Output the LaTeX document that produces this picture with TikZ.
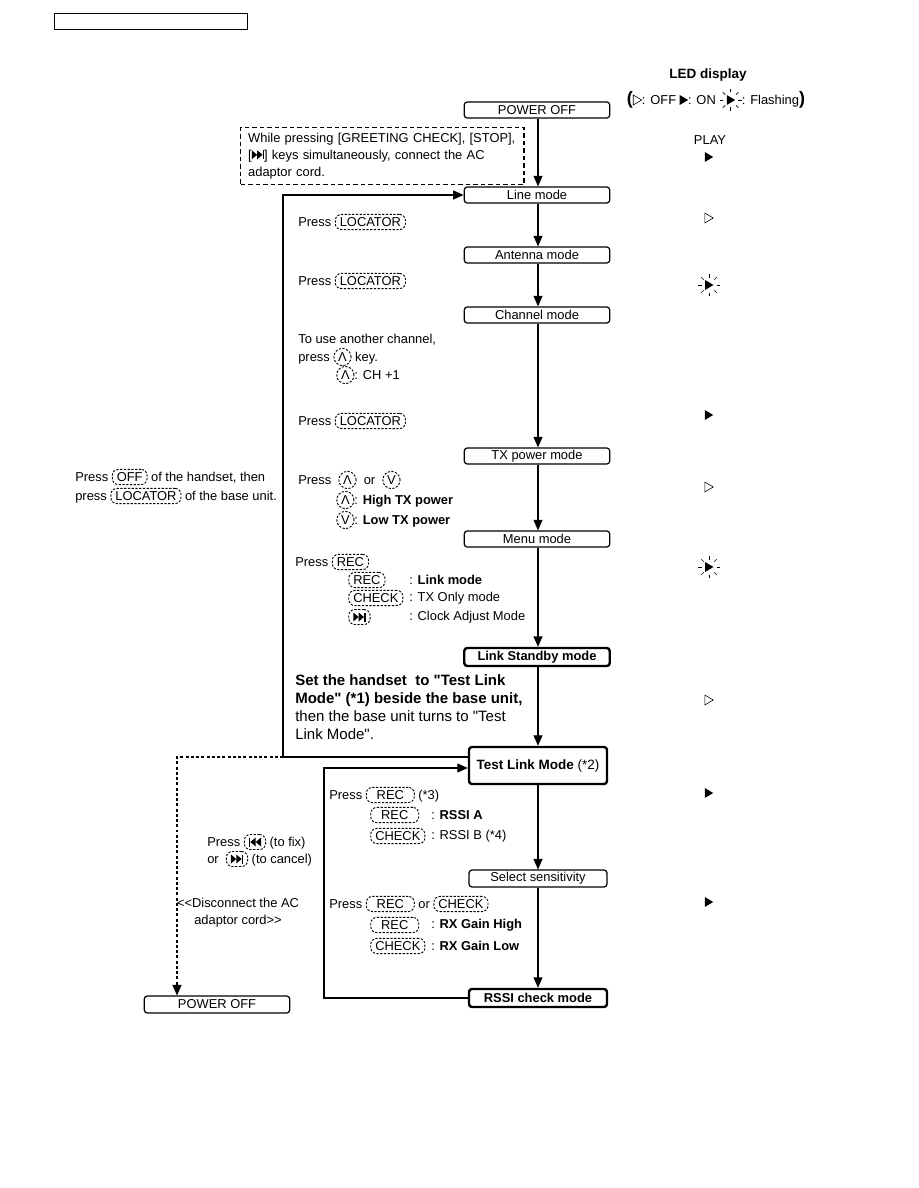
\documentclass[tikz,border=0pt]{standalone}
\usepackage{fontspec}
\setmainfont{Liberation Sans}
\newfontfamily\qfont{Liberation Sans}[Ligatures=ResetAll]
\usetikzlibrary{arrows.meta, positioning}

% LED marks and key icons
\newcommand\ledoff{\tikz[baseline=-3pt,x=1pt,y=1pt,sharp corners,solid]\draw[line width=0.4pt] (-2.6,-3.3) -- (3,0) -- (-2.6,3.3) -- cycle;}
\newcommand\ledon{\tikz[baseline=-3pt,x=1pt,y=1pt,sharp corners,solid]\fill (-2.6,-3.3) -- (3,0) -- (-2.6,3.3) -- cycle;}
\newcommand\ledflash{\tikz[baseline=-3pt,x=1pt,y=1pt,sharp corners,solid]{\fill (-2.6,-3.3) -- (3,0) -- (-2.6,3.3) -- cycle;
  \foreach \a in {0,45,...,315} \draw[line width=0.4pt] (\a:5) -- (\a:7.3);}}
\newcommand\ffwicon{\tikz[x=1pt,y=1pt,baseline=0pt,sharp corners,solid]{\fill (0,0) -- (3.6,3) -- (0,6) -- cycle;
  \fill (3.6,0) -- (7.2,3) -- (3.6,6) -- cycle; \fill (7.2,0) rectangle (8.2,6);}}
\newcommand\rewicon{\tikz[x=1pt,y=1pt,baseline=0pt,sharp corners,solid]{\fill (0,0) rectangle (1,6);
  \fill (4.6,0) -- (1,3) -- (4.6,6) -- cycle; \fill (8.2,0) -- (4.6,3) -- (8.2,6) -- cycle;}}

\tikzset{
  keybox/.style={draw, dash pattern=on 1.5pt off 1pt, line width=0.6pt, rounded corners=4pt,
    inner xsep=3pt, inner ysep=2pt},
  keyround/.style={draw, circle, dash pattern=on 1.5pt off 1pt, line width=0.6pt,
    inner sep=0.5pt, minimum size=11.5pt}
}
\newcommand\keycap[2][]{\tikz[baseline=(k.base)]\node[keybox,#1] (k) {#2};}
\newcommand\upkey{\tikz[baseline=(k.base)]\node[keyround] (k) {Λ};}
\newcommand\downkey{\tikz[baseline=(k.base)]\node[keyround] (k) {V};}
\newcommand\qq{{\qfont"}}

\begin{document}
\begin{tikzpicture}[x=0.6667pt, y=-0.6667pt,
    every node/.style={font=\fontsize{8.6}{11.5}\selectfont},
    mode/.style={draw, rounded corners=2pt, line width=0.8pt, minimum width=97pt,
      minimum height=10.7pt, inner sep=0pt},
    bmode/.style={mode, line width=1.6pt, font=\fontsize{8.6}{11.5}\selectfont\bfseries},
    txt/.style={anchor=west, inner sep=0pt},
    arr/.style={-{Triangle[length=7pt,width=6pt]}, line width=0.7pt}]
  \useasboundingbox (0,0) rectangle (918,1188);

  \node[draw, line width=0.9pt, anchor=north west, minimum width=128.7pt, minimum height=10.7pt] (hdr) at (54,13) {};

  % main column
  \node[mode] (pwr1) at (537,110) {POWER OFF};
  \node[mode] (line) at (537,195) {Line mode};
  \node[mode] (ant) at (537,255) {Antenna mode};
  \node[mode] (chan) at (537,315) {Channel mode};
  \node[mode] (tx) at (537,456) {TX power mode};
  \node[mode] (menu) at (537,539) {Menu mode};
  \node[bmode, minimum height=12pt] (stby) at (537,657) {Link Standby mode};
  \node[bmode, minimum width=92pt, minimum height=24.7pt, font=\fontsize{9}{11.5}\selectfont] (test) at (538,765.5)
    {\textbf{Test Link Mode} (*2)};
  \node[mode, minimum width=92pt, minimum height=11.3pt] (sel) at (538,878.5) {Select sensitivity};
  \node[bmode, minimum width=92pt, minimum height=12pt] (rssi) at (538,998) {RSSI check mode};
  \node[mode, minimum width=97pt, minimum height=11.3pt] (pwr2) at (217,1004.5) {POWER OFF};

  \foreach \a/\b in {pwr1/line, line/ant, ant/chan, chan/tx, tx/menu, menu/stby, stby/test, test/sel, sel/rssi}
    \draw[arr] (\a.south -| 538,0) -- (\b.north -| 538,0);

  % loops back
  \coordinate (l1) at (283,757);
  \coordinate (d1) at (177,757);
  \coordinate (l2) at (324,768);
  \draw[arr] (l1 -| test.west) -- (l1) |- (line.west);
  \draw[arr, dash pattern=on 2pt off 1.5pt] (l1) -- (d1) -- (d1 |- pwr2.north);
  \draw[arr] (rssi.west) -| (l2) -- (l2 -| test.west);

  % start note
  \node[draw, dash pattern=on 3pt off 2pt, line width=0.9pt, anchor=north west, align=left,
    minimum width=189pt, minimum height=36.7pt, inner xsep=5pt, text width=179pt] (note) at (240,127)
    {While pressing [GREETING CHECK], [STOP],\\ {[}\ffwicon] keys simultaneously, connect the AC\\ adaptor cord.};

  % operations
  \node[txt] (p1) at (298,222) {Press \keycap{LOCATOR}};
  \node[txt] (p2) at (298,281) {Press \keycap{LOCATOR}};
  \node[txt] (ch1) at (298,340) {To use another channel,};
  \node[txt] (ch2) at (298,357) {press \upkey\ key.};
  \node[txt] (ch3) at (336,375) {\upkey: CH +1};
  \node[txt] (p3) at (298,421) {Press \keycap{LOCATOR}};
  \node[txt] (t1) at (298,480) {Press\ \ \upkey\ \ or\ \ \downkey};
  \node[txt] (t2) at (336,500) {\upkey: \textbf{High TX power}};
  \node[txt] (t3) at (336,520) {\downkey: \textbf{Low TX power}};
  \node[txt] (m1) at (295,562) {Press \keycap{REC}};
  \node[txt] (m2k) at (348,580) {\keycap{REC}};
  \node[txt] (m3k) at (348,598) {\keycap{CHECK}};
  \node[txt] (m4k) at (348,617) {\keycap{\ffwicon}};
  \node[txt] (m2) at (409,580) {: \textbf{Link mode}};
  \node[txt] (m3) at (409,598) {: TX Only mode};
  \node[txt] (m4) at (409,617) {: Clock Adjust Mode};
  \node[txt, anchor=north west, align=left, font=\fontsize{10}{12}\selectfont] (hs) at (295,674)
    {\textbf{Set the handset\ \ to \qq Test Link}\\ \textbf{Mode\qq\ (*1) beside the base unit,}\\
     then the base unit turns to \qq Test\\ Link Mode\qq.};
  \node[txt] (r1) at (329,795) {Press \keycap[minimum width=32pt]{REC} (*3)};
  \node[txt] (r2k) at (370,815) {\keycap[minimum width=32pt]{REC}};
  \node[txt] (r3k) at (370,836) {\keycap{CHECK}};
  \node[txt] (r2) at (431,815) {: \textbf{RSSI A}};
  \node[txt] (r3) at (431,836) {: RSSI B (*4)};
  \node[txt] (g1) at (329,904) {Press \keycap[minimum width=32pt]{REC} or \keycap{CHECK}};
  \node[txt] (g2k) at (370,925) {\keycap[minimum width=32pt]{REC}};
  \node[txt] (g3k) at (370,946) {\keycap{CHECK}};
  \node[txt] (g2) at (431,925) {: \textbf{RX Gain High}};
  \node[txt] (g3) at (431,946) {: \textbf{RX Gain Low}};

  % left side
  \node[txt] (off1) at (75,477) {Press \keycap{OFF} of the handset, then};
  \node[txt] (off2) at (75,496) {press \keycap{LOCATOR} of the base unit.};
  \node[txt] (fix1) at (207,842) {Press \keycap{\rewicon} (to fix)};
  \node[txt] (fix2) at (207,859) {or\ \ \keycap{\ffwicon} (to cancel)};
  \node[align=center, inner sep=0pt] (disc) at (238,913) {<{}<Disconnect the AC\\ adaptor cord>{}>};

  % LED display
  \node[font=\fontsize{9}{11}\selectfont\bfseries] (ledt) at (708,75) {LED display};
  \node (legend) at (716,100) {{\fontsize{12}{12}\selectfont\bfseries(}\ledoff: OFF \ledon: ON \ledflash: Flashing{\fontsize{12}{12}\selectfont\bfseries)}};
  \node (play) at (710,140) {PLAY};
  \node (led0) at (709,157) {\ledon};
  \node (led1) at (709,218) {\ledoff};
  \node (led2) at (709,285) {\ledflash};
  \node (led3) at (709,415) {\ledon};
  \node (led4) at (709,487) {\ledoff};
  \node (led5) at (709,567) {\ledflash};
  \node (led6) at (709,700) {\ledoff};
  \node (led7) at (709,793) {\ledon};
  \node (led8) at (709,902) {\ledon};
\end{tikzpicture}
\end{document}
